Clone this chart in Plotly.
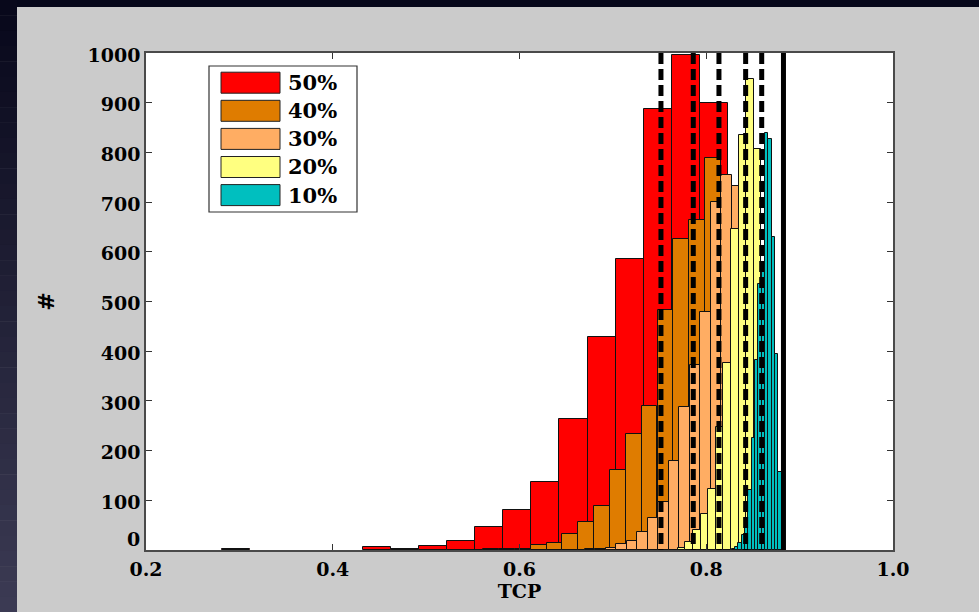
import plotly.graph_objects as go

# ---------------- data ----------------
series_labels = ["50%", "40%", "30%", "20%", "10%"]
series_colors = ["#ff0000", "#df7c00", "#ffad63", "#ffff80", "#00bfbf"]

# histogram bin centres (TCP) and counts, one pair per series
red_x = [0.2966, 0.4471, 0.4772, 0.5073, 0.5374, 0.5675, 0.5976, 0.6277,
         0.6578, 0.6879, 0.7180, 0.7481, 0.7782, 0.8083]
red_y = [2, 7, 2, 9, 19, 47, 80, 137, 263, 429, 586, 888, 995, 899]

orange_x = [0.5528, 0.5697, 0.5867, 0.6037, 0.6206, 0.6376, 0.6545, 0.6715,
            0.6885, 0.7054, 0.7224, 0.7393, 0.7563, 0.7733, 0.7902, 0.8072]
orange_y = [1, 2, 3, 3, 11, 15, 32, 56, 88, 160, 233, 290, 483, 625, 664, 788]

salmon_x = [0.6754, 0.6866, 0.6979, 0.7091, 0.7204, 0.7316, 0.7429, 0.7541,
            0.7654, 0.7766, 0.7879, 0.7991, 0.8104, 0.8216, 0.8329]
salmon_y = [2, 3, 5, 13, 18, 36, 64, 97, 180, 288, 372, 479, 700, 754, 732]

yellow_x = [0.7655, 0.7736, 0.7818, 0.7899, 0.7980, 0.8062, 0.8143, 0.8225,
            0.8306, 0.8387, 0.8469, 0.8550]
yellow_y = [1, 5, 17, 40, 72, 123, 247, 377, 645, 836, 948, 806]

teal_x = [0.8289, 0.8325, 0.8361, 0.8396, 0.8432, 0.8468, 0.8504, 0.8539,
          0.8575, 0.8611, 0.8646, 0.8682, 0.8718, 0.8753, 0.8789]
teal_y = [2, 7, 15, 30, 60, 120, 225, 383, 536, 560, 839, 826, 630, 394, 156]

bin_widths = [0.0301, 0.01696, 0.01125, 0.00814, 0.00357]

mean_lines = [0.7515, 0.7861, 0.8136, 0.8422, 0.8594]   # dashed
reference_line = 0.8827                                  # solid

x_ticks = [0.2, 0.4, 0.6, 0.8, 1.0]
x_tick_labels = ["0.2", "0.4", "0.6", "0.8", "1.0"]
y_ticks = list(range(0, 1001, 100))
y_tick_labels = [str(v) for v in y_ticks]

# ---------------- layout geometry ----------------
W, H = 979, 612
L, R, T, B = 146, 86, 53, 62
PW, PH = W - L - R, H - T - B


def px(x):
    return (x - L) / PW


def py(y):
    return (H - B - y) / PH


FONT = "DejaVu Serif"
TICKFONT = dict(family=FONT, size=19, color="black", weight="bold")

fig = go.Figure()
xs = [red_x, orange_x, salmon_x, yellow_x, teal_x]
ys = [red_y, orange_y, salmon_y, yellow_y, teal_y]
for lab, col, x, y, w in zip(series_labels, series_colors, xs, ys, bin_widths):
    fig.add_trace(go.Bar(
        x=x, y=y, width=w, name=lab, opacity=1,
        marker=dict(color=col, line=dict(color="#111111", width=1)),
        showlegend=False,
    ))

shapes = []
# dark frame strips (top and left, with vertical gradient on the left)
shapes.append(dict(type="rect", xref="paper", yref="paper", layer="below",
                   x0=px(0), x1=px(W), y0=py(7), y1=py(0),
                   fillcolor="#06071a", line=dict(width=0)))
n = 40
c0, c1 = (7, 7, 26), (60, 59, 84)
for i in range(n):
    t = (i + 0.5) / n
    c = tuple(int(round(a + (b - a) * t)) for a, b in zip(c0, c1))
    shapes.append(dict(type="rect", xref="paper", yref="paper", layer="below",
                       x0=px(0), x1=px(17), y0=py(H * (i + 1) / n + 0.5), y1=py(H * i / n),
                       fillcolor="rgb(%d,%d,%d)" % c, line=dict(width=0)))

# mean lines and reference line
for m in mean_lines:
    shapes.append(dict(type="line", xref="x", yref="y", x0=m, x1=m, y0=1000, y1=0,
                       line=dict(color="black", width=5, dash="11px,5px")))
shapes.append(dict(type="line", xref="x", yref="y", x0=reference_line, x1=reference_line,
                   y0=1000, y1=0, line=dict(color="black", width=5)))

# manual legend
shapes.append(dict(type="rect", xref="paper", yref="paper",
                   x0=px(209), x1=px(357), y0=py(212), y1=py(66),
                   fillcolor="white", line=dict(color="#333333", width=1.2)))
annotations = []
for i, (lab, col) in enumerate(zip(series_labels, series_colors)):
    cy = 82.7 + 28.1 * i
    shapes.append(dict(type="rect", xref="paper", yref="paper",
                       x0=px(221), x1=px(280), y0=py(cy + 10.5), y1=py(cy - 10.5),
                       fillcolor=col, line=dict(color="#222222", width=1)))
    annotations.append(dict(xref="paper", yref="paper", x=px(286), y=py(cy),
                            xanchor="left", yanchor="middle", text=lab, showarrow=False,
                            font=dict(family=FONT, size=21, color="black", weight="bold")))

# the zero label of the y axis sits a little above its tick (as in the original)
annotations.append(dict(xref="paper", yref="paper", x=px(141), y=py(539),
                        xanchor="right", yanchor="middle", text=y_tick_labels[0],
                        showarrow=False, font=TICKFONT, borderpad=0))

fig.update_layout(
    width=W, height=H,
    margin=dict(l=L, r=R, t=T, b=B, pad=0),
    paper_bgcolor="#cbcbcb", plot_bgcolor="white",
    barmode="overlay", bargap=0,
    shapes=shapes, annotations=annotations,
    showlegend=False,
)
axis_common = dict(
    showgrid=False, zeroline=False, showline=True, linecolor="#4a4a4a", linewidth=1.5,
    mirror="ticks", ticks="inside", ticklen=6, tickcolor="#333333", tickwidth=1,
    tickfont=TICKFONT,
)
fig.update_xaxes(range=[0.2, 1.0], tickvals=x_ticks, ticktext=x_tick_labels,
                 ticklabelstandoff=1,
                 title=dict(text="TCP", standoff=4,
                            font=dict(family=FONT, size=19, color="black", weight="bold")),
                 **axis_common)
fig.update_yaxes(range=[0, 1000], tickvals=y_ticks,
                 ticktext=[""] + y_tick_labels[1:], ticklabelshift=2,
                 title=dict(text="#", standoff=27,
                            font=dict(family=FONT, size=22, color="black", weight="bold")),
                 **axis_common)

fig.write_html(
    "out.html",
    config={"displayModeBar": False},
    post_script="document.body.style.margin='0';document.body.style.overflow='hidden';",
)
